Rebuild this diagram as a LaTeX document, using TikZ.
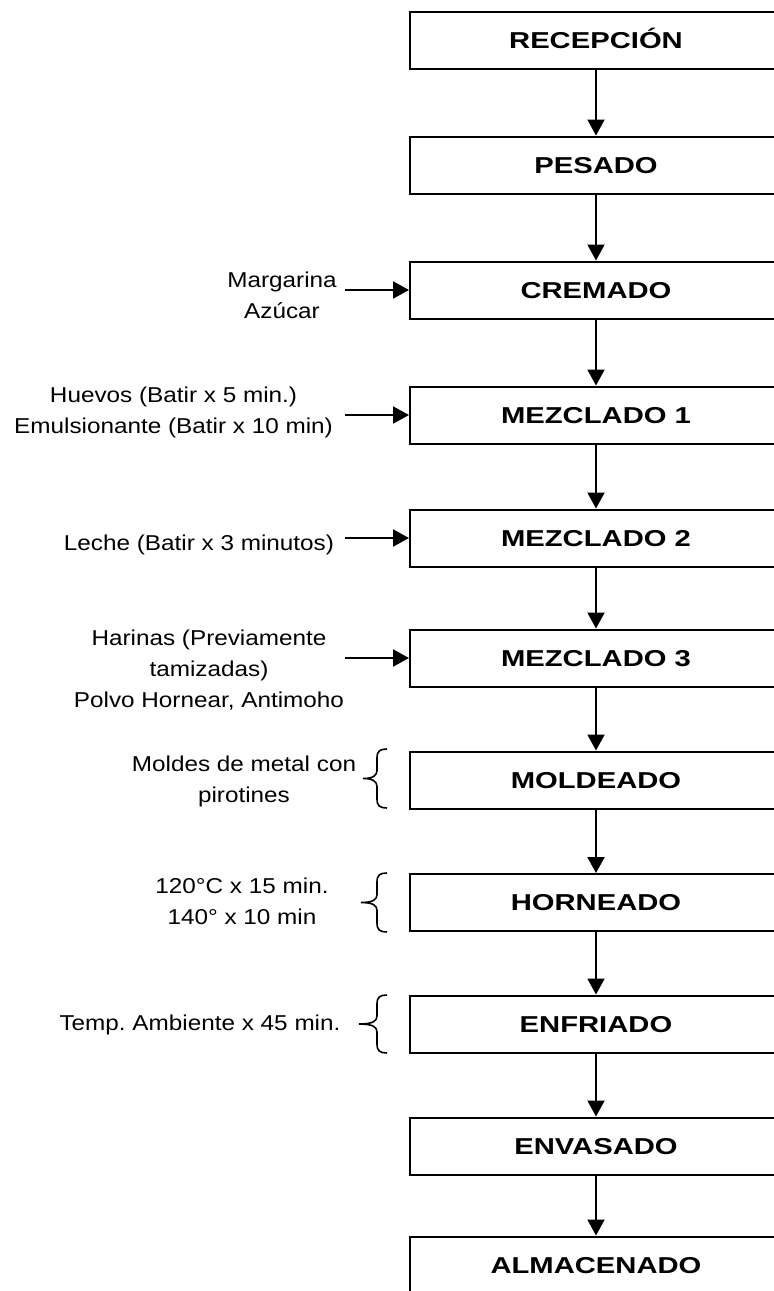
\documentclass[tikz,border=0pt]{standalone}
\usepackage{fontspec}
\setmainfont{Liberation Sans}
\newfontfamily\lblfont{Liberation Sans}[FakeStretch=1.13]
\newfontfamily\boxfont{Liberation Sans}[FakeStretch=1.27]
\usetikzlibrary{arrows.meta}
\begin{document}
\begin{tikzpicture}[x=1pt,y=-1pt,
  stepbox/.style={draw, line width=2pt, minimum width=372pt, minimum height=57pt, inner sep=0pt,
    text height=16.5pt, text depth=0pt, font=\boxfont\bfseries\fontsize{23pt}{28pt}\selectfont},
  lbl/.style={align=center, inner sep=0pt, anchor=north, font=\lblfont\fontsize{21.5pt}{31pt}\selectfont},
  arr/.style={line width=2pt, -{Triangle[width=17pt,length=16pt]}},
  bracestyle/.style={line width=1.6pt}]
\useasboundingbox (0,0) rectangle (774,1291);
\clip (0,0) rectangle (774,1291);

% process boxes
\node[stepbox] (b1)  at (596,40)     {RECEPCIÓN};
\node[stepbox] (b2)  at (596,165)    {PESADO};
\node[stepbox] (b3)  at (596,290)    {CREMADO};
\node[stepbox] (b4)  at (596,415)    {MEZCLADO 1};
\node[stepbox] (b5)  at (596,538)    {MEZCLADO 2};
\node[stepbox] (b6)  at (596,658)    {MEZCLADO 3};
\node[stepbox] (b7)  at (596,780)    {MOLDEADO};
\node[stepbox] (b8)  at (596,902.5)  {HORNEADO};
\node[stepbox] (b9)  at (596,1024)   {ENFRIADO};
\node[stepbox] (b10) at (596,1146)   {ENVASADO};
\node[stepbox] (b11) at (596,1265)   {ALMACENADO};

% vertical flow
\foreach \a/\b in {b1/b2,b2/b3,b3/b4,b4/b5,b5/b6,b6/b7,b7/b8,b8/b9,b9/b10,b10/b11}
  \draw[arr] (\a.south) -- (\b.north);

% side labels
\node[lbl] (l3) at (282,271.5)  {Margarina\\Azúcar};
\node[lbl] (l4) at (173.5,386.5) {Huevos (Batir x 5 min.)\\Emulsionante (Batir x 10 min)};
\node[lbl] (l5) at (199,534.5)  {Leche (Batir x 3 minutos)};
\node[lbl] (l6) at (209,629.5)  {Harinas (Previamente\\tamizadas)\\Polvo Hornear, Antimoho};
\node[lbl] (l7) at (244,755.5)  {Moldes de metal con\\pirotines};
\node[lbl] (l8) at (242,877.5)  {120°C x 15 min.\\140° x 10 min};
\node[lbl] (l9) at (200,1014.5) {Temp.\ Ambiente x 45 min.};

% input arrows
\coordinate (s3) at (345,0 |- b3.west);
\coordinate (s4) at (345,0 |- b4.west);
\coordinate (s5) at (345,0 |- b5.west);
\coordinate (s6) at (345,0 |- b6.west);
\draw[arr] (s3) -- (b3.west);
\draw[arr] (s4) -- (b4.west);
\draw[arr] (s5) -- (b5.west);
\draw[arr] (s6) -- (b6.west);

% braces
\draw[bracestyle] (387,749) .. controls (380,749) and (377,751) .. (377,758) -- (377,770.5)
  .. controls (377,775.5) and (373,778.5) .. (363,778.5)
  .. controls (373,778.5) and (377,781.5) .. (377,786.5) -- (377,799)
  .. controls (377,806) and (380,808) .. (387,808);
\draw[bracestyle] (387,873) .. controls (380,873) and (377,875) .. (377,882) -- (377,894.5)
  .. controls (377,899.5) and (373,902.5) .. (361,902.5)
  .. controls (373,902.5) and (377,905.5) .. (377,910.5) -- (377,923)
  .. controls (377,930) and (380,932) .. (387,932);
\draw[bracestyle] (387,995) .. controls (380,995) and (377,997) .. (377,1004) -- (377,1016)
  .. controls (377,1021) and (373,1024) .. (359,1024)
  .. controls (373,1024) and (377,1027) .. (377,1032) -- (377,1044)
  .. controls (377,1051) and (380,1053) .. (387,1053);
\end{tikzpicture}
\end{document}
